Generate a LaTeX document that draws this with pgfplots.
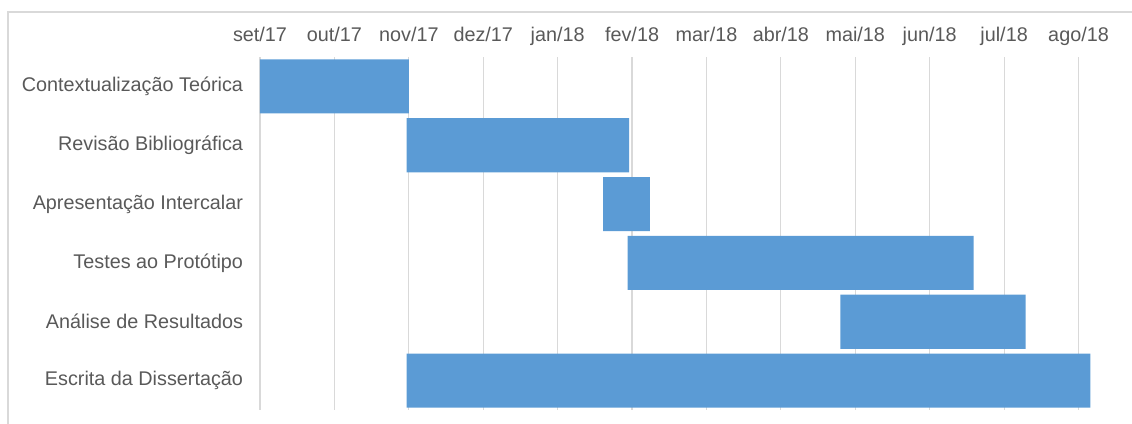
\documentclass[border=0pt]{standalone}
\usepackage{pgfplots}
\pgfplotsset{compat=1.18}
\usepackage{pgfplotstable}
\usepackage{fontspec}
\setmainfont{Liberation Sans}
\definecolor{barblue}{HTML}{5B9BD5}
\definecolor{gridgray}{HTML}{D9D9D9}
\definecolor{txtgray}{HTML}{595959}
\pgfplotstableread{
y start dur
0 0.00 2.00
1 1.97 2.99
2 4.61 0.63
3 4.94 4.65
4 7.80 2.49
5 1.97 9.19
}\gantt
\begin{document}
\fontsize{9.9bp}{12bp}\selectfont
\begin{tikzpicture}
\useasboundingbox (-130bp,-7bp) rectangle (436bp,205bp);
\draw[gridgray, line width=0.6bp] (-126bp,-12bp) -- (-126bp,199bp) -- (440bp,199bp);
\begin{axis}[
  scale only axis,
  width=426bp, height=176.5bp,
  xbar stacked,
  bar width=0.92,
  xmin=0, xmax=11.45,
  ymin=-0.5, ymax=5.5,
  y dir=reverse,
  enlargelimits=false,
  axis line style={draw=none},
  xtick={0,...,11},
  xticklabels={set/17,out/17,nov/17,dez/17,jan/18,fev/18,mar/18,abr/18,mai/18,jun/18,jul/18,ago/18},
  xticklabel pos=upper,
  ytick={0,...,5},
  yticklabels={Contextualização Teórica,Revisão Bibliográfica,Apresentação Intercalar,Testes ao Protótipo,Análise de Resultados,Escrita da Dissertação},
  major tick length=0pt,
  tick style={draw=none},
  xmajorgrids,
  grid style={gridgray, line width=0.6bp},
  ticklabel style={font=\fontsize{9.9bp}{12bp}\selectfont, text=txtgray},
  xticklabel style={anchor=base, yshift=8bp},
  yticklabel style={xshift=-5bp},
]
\addplot[draw=none, fill=none] table[x=start, y=y] {\gantt};
\addplot[draw=none, fill=barblue] table[x=dur, y=y] {\gantt};
\end{axis}
\end{tikzpicture}
\end{document}
